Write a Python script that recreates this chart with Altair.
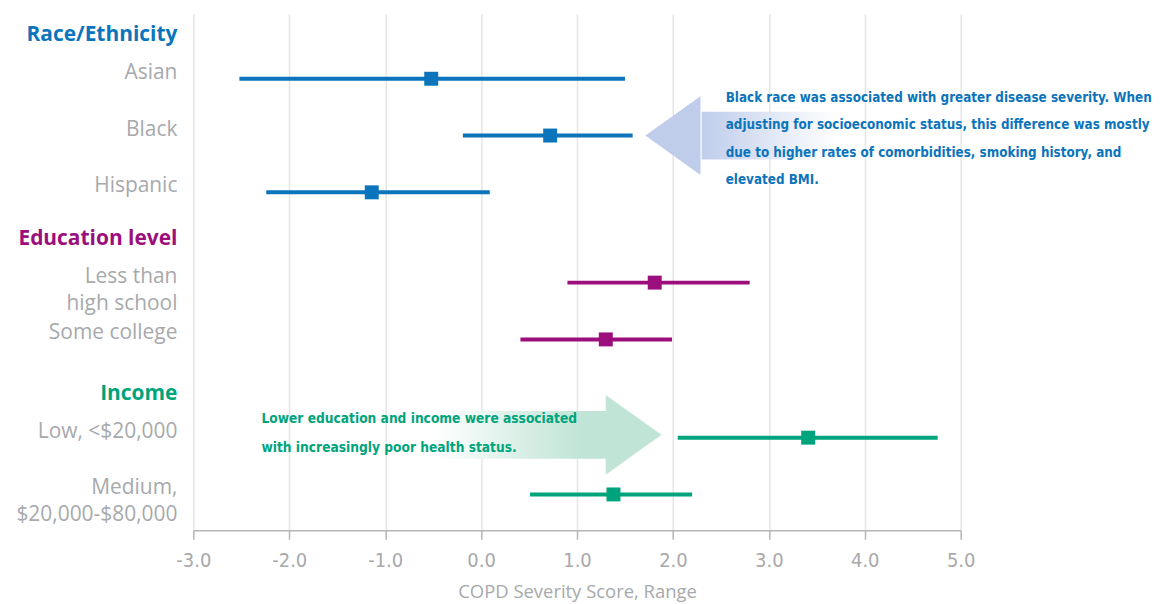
import altair as alt
import pandas as pd

# ---------------- data ----------------
groups = ["Race/Ethnicity", "Education level", "Income"]
group_colors = ["#0b74bb", "#9b0e7c", "#00a47c"]

labels = ["Asian", "Black", "Hispanic",
          "Less than\nhigh school", "Some college",
          "Low, <$20,000", "Medium,\n$20,000-$80,000"]
label_group = ["Race/Ethnicity", "Race/Ethnicity", "Race/Ethnicity",
               "Education level", "Education level",
               "Income", "Income"]
estimate = [-0.52, 0.72, -1.14, 1.81, 1.30, 3.41, 1.38]
ci_low = [-2.52, -0.19, -2.24, 0.90, 0.41, 2.05, 0.51]
ci_high = [1.50, 1.58, 0.09, 2.80, 1.99, 4.76, 2.20]

x_ticks = [-3, -2, -1, 0, 1, 2, 3, 4, 5]

note_black = ("Black race was associated with greater disease severity. When\n"
              "adjusting for socioeconomic status, this difference was mostly\n"
              "due to higher rates of comorbidities, smoking history, and\n"
              "elevated BMI.")
note_income = ("Lower education and income were associated\n"
               "with increasingly poor health status.")

# ---------------- row layout ----------------
HEAD_GAP = 0.77
GROUP_GAPS = [0.0, 0.82, 0.96]
rows, heads = [], []
pos = 0.0
for gi, g in enumerate(groups):
    pos += GROUP_GAPS[gi]
    heads.append(pos)
    first = True
    for i, lab in enumerate(labels):
        if label_group[i] != g:
            continue
        pos += HEAD_GAP if first else 1.0
        first = False
        rows.append(pos)

items = pd.DataFrame({"label": labels, "group": label_group, "est": estimate,
                      "lo": ci_low, "hi": ci_high, "row": rows})
heads_df = pd.DataFrame({"group": groups, "row": heads})

xs = alt.Scale(domain=[-3, 5], nice=False, zero=False)
ys = alt.Scale(domain=[-0.37, 8.72], nice=False, zero=False, reverse=True)
cs = alt.Scale(domain=groups, range=group_colors)

gray = "#a7a9ac"
cond = "DejaVu Sans Condensed"

x_axis = alt.Axis(
    values=x_ticks,
    labelExpr="datum.value < 0 ? '-' + format(-datum.value, '.1f') : format(datum.value, '.1f')",
    title="COPD Severity Score, Range",
)

rules = alt.Chart(items).mark_rule(strokeWidth=4).encode(
    x=alt.X("lo:Q", scale=xs, axis=x_axis),
    x2="hi:Q",
    y=alt.Y("row:Q", scale=ys, axis=None),
    color=alt.Color("group:N", scale=cs, legend=None),
)

squares = alt.Chart(items).mark_square(size=196, filled=True, opacity=1).encode(
    x=alt.X("est:Q", scale=xs),
    y=alt.Y("row:Q", scale=ys, axis=None),
    color=alt.Color("group:N", scale=cs, legend=None),
)

cat_labels = alt.Chart(items).mark_text(
    align="right", baseline="middle", dx=-16, dy=-6, lineBreak="\n", lineHeight=27,
    font="Open Sans", fontSize=21, color=gray,
).encode(x=alt.datum(-3), y=alt.Y("row:Q", scale=ys, axis=None), text="label:N")

head_labels = alt.Chart(heads_df).mark_text(
    align="right", baseline="middle", dx=-16, font="Open Sans", fontSize=21, fontWeight="bold",
).encode(x=alt.datum(-3), y=alt.Y("row:Q", scale=ys, axis=None), text="group:N",
         color=alt.Color("group:N", scale=cs, legend=None))

# ---------------- annotation arrows ----------------
blue_c = "#bfcdeb"
green_c = "#c0e4d6"
shaft_half = 0.42
blue_shaft = alt.Chart(pd.DataFrame({"x": [2.3], "x2": [3.7],
                                     "y": [rows[1] - shaft_half], "y2": [rows[1] + shaft_half]})).mark_rect(
    color=alt.Gradient(gradient="linear", x1=0, x2=1, y1=0, y2=0, stops=[
        alt.GradientStop(color=blue_c, offset=0),
        alt.GradientStop(color="#ffffff", offset=1),
    ])
).encode(x=alt.X("x:Q", scale=xs), x2="x2:Q", y=alt.Y("y:Q", scale=ys, axis=None), y2="y2:Q")

green_shaft = alt.Chart(pd.DataFrame({"x": [-0.5], "x2": [1.32],
                                      "y": [rows[5] - 0.05 - shaft_half], "y2": [rows[5] - 0.05 + shaft_half]})).mark_rect(
    color=alt.Gradient(gradient="linear", x1=0, x2=1, y1=0, y2=0, stops=[
        alt.GradientStop(color="#ffffff", offset=0),
        alt.GradientStop(color=green_c, offset=0.85),
        alt.GradientStop(color=green_c, offset=1),
    ])
).encode(x=alt.X("x:Q", scale=xs), x2="x2:Q", y=alt.Y("y:Q", scale=ys, axis=None), y2="y2:Q")

head_left = "M -0.7 0 L 0.7 -1 L 0.7 1 Z"
head_right = "M -0.7 -1 L 0.7 0 L -0.7 1 Z"
blue_head = alt.Chart(pd.DataFrame({"x": [2.0], "row": [rows[1]]})).mark_point(
    shape=head_left, size=6241, filled=True, color=blue_c, strokeWidth=0, opacity=1,
).encode(x=alt.X("x:Q", scale=xs), y=alt.Y("row:Q", scale=ys, axis=None))

green_head = alt.Chart(pd.DataFrame({"x": [1.59], "row": [rows[5] - 0.05]})).mark_point(
    shape=head_right, size=6400, filled=True, color=green_c, strokeWidth=0, opacity=1,
).encode(x=alt.X("x:Q", scale=xs), y=alt.Y("row:Q", scale=ys, axis=None))

note1 = alt.Chart(pd.DataFrame({"t": [note_black], "x": [2.55], "row": [rows[1]]})).mark_text(
    align="left", baseline="middle", dy=-38, lineBreak="\n", lineHeight=27.7,
    font=cond, fontSize=13.4, fontWeight="bold", color=group_colors[0],
).encode(x=alt.X("x:Q", scale=xs), y=alt.Y("row:Q", scale=ys, axis=None), text="t:N")

note2 = alt.Chart(pd.DataFrame({"t": [note_income], "x": [-2.29], "row": [rows[5]]})).mark_text(
    align="left", baseline="middle", dy=-19, lineBreak="\n", lineHeight=29,
    font=cond, fontSize=13.7, fontWeight="bold", color=group_colors[2],
).encode(x=alt.X("x:Q", scale=xs), y=alt.Y("row:Q", scale=ys, axis=None), text="t:N")

chart = alt.layer(
    blue_shaft, green_shaft, blue_head, green_head, note1, note2,
    rules, squares, cat_labels, head_labels
).properties(
    width=770, height=518, autosize="none",
    padding={"left": 186, "top": 5, "right": 196, "bottom": 71},
).configure_view(strokeWidth=0).configure_axis(
    grid=True, gridColor="#e6e6e6", gridWidth=1.5,
    domainColor="#b5b5b5", domainWidth=1.5,
    tickColor="#b5b5b5", tickWidth=1.5, tickSize=9,
    labelFont=cond, labelFontSize=20, labelColor=gray, labelPadding=11, labelFlush=False,
    titleFont="Open Sans", titleFontSize=18.5, titleFontWeight="normal",
    titleColor=gray, titlePadding=13,
)

chart.save("out.html", embed_options={"renderer": "svg", "actions": False})
